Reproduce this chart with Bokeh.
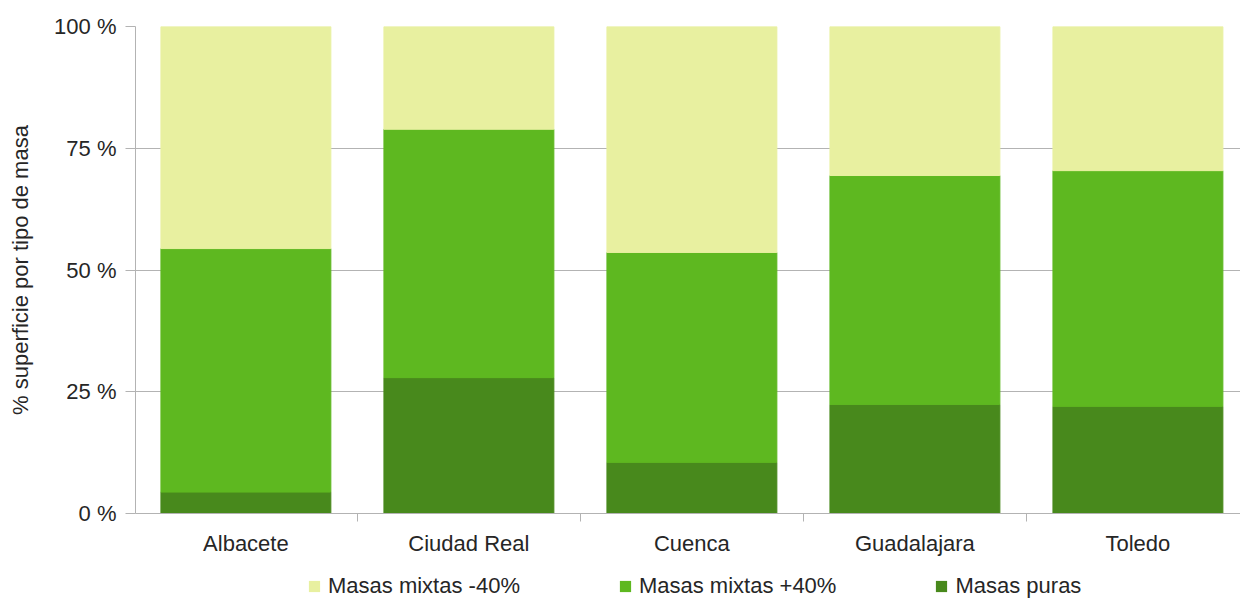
from bokeh.plotting import figure
from bokeh.layouts import column
from bokeh.models import ColumnDataSource, Range1d, FixedTicker, Legend, LegendItem
from bokeh.embed import file_html
from bokeh.resources import INLINE

# Share of forest area by stand type, per province (%)
provincias = ["Albacete", "Ciudad Real", "Cuenca", "Guadalajara", "Toledo"]
masas_puras = [4.4, 27.9, 10.5, 22.4, 22.0]
mixtas_mas40 = [50.0, 51.0, 43.1, 47.0, 48.4]
mixtas_menos40 = [45.6, 21.1, 46.4, 30.6, 29.6]

series = ["Masas puras", "Masas mixtas +40%", "Masas mixtas -40%"]
colores = ["#48891c", "#5eb820", "#e8f0a0"]

y_ticks = [0, 25, 50, 75, 100]
y_tick_labels = ["0 %", "25 %", "50 %", "75 %", "100 %"]
y_title = "% superficie por tipo de masa"

FONT = "Liberation Sans"
TEXT = "#262626"
GRAY = "#b3b3b3"

centros = [i + 0.5 for i in range(len(provincias))]
limites = list(range(len(provincias) + 1))

source = ColumnDataSource(dict(
    x=centros,
    puras=masas_puras,
    mas40=mixtas_mas40,
    menos40=mixtas_menos40,
))

p = figure(
    width=1240, height=562,
    x_range=Range1d(0.005, 4.96), y_range=Range1d(0, 100),
    output_backend="svg", toolbar_location=None,
    min_border_left=135, min_border_right=0,
    min_border_top=26, min_border_bottom=49,
)
p.outline_line_color = None
p.background_fill_color = "white"

p.vbar_stack(
    ["puras", "mas40", "menos40"], x="x", width=0.762,
    color=colores, source=source,
)

# x axis: names at the bar centres, tick marks at category boundaries
xa = p.xaxis[0]
xa.ticker = FixedTicker(ticks=centros, minor_ticks=limites)
xa.major_label_overrides = {c: n for c, n in zip(centros, provincias)}
xa.major_tick_out = 0
xa.major_tick_in = 0
xa.minor_tick_out = 8
xa.minor_tick_in = 0
xa.minor_tick_line_color = GRAY
xa.axis_line_color = GRAY
xa.major_label_standoff = 9
xa.major_label_text_font = FONT
xa.major_label_text_font_size = "22px"
xa.major_label_text_color = TEXT

ya = p.yaxis[0]
ya.ticker = FixedTicker(ticks=y_ticks)
ya.major_label_overrides = {t: l for t, l in zip(y_ticks, y_tick_labels)}
ya.major_tick_out = 10
ya.major_tick_in = 0
ya.minor_tick_out = 0
ya.minor_tick_in = 0
ya.major_tick_line_color = GRAY
ya.axis_line_color = GRAY
ya.major_label_standoff = 9
ya.major_label_text_font = FONT
ya.major_label_text_font_size = "22px"
ya.major_label_text_color = TEXT
ya.axis_label = y_title
ya.axis_label_text_font = FONT
ya.axis_label_text_font_size = "22px"
ya.axis_label_text_font_style = "normal"
ya.axis_label_text_color = TEXT
ya.axis_label_standoff = 18

p.xgrid.grid_line_color = None
p.ygrid.ticker = FixedTicker(ticks=y_ticks)
p.ygrid.grid_line_color = GRAY
p.ygrid.grid_line_width = 1

# legend strip underneath the chart (its frame lines up with the chart's)
leg = figure(
    width=1240, height=37,
    x_range=Range1d(0, 1), y_range=Range1d(0, 1),
    output_backend="svg", toolbar_location=None,
    x_axis_location=None, y_axis_location=None,
    min_border_left=135, min_border_right=0,
    min_border_top=0, min_border_bottom=0,
)
leg.outline_line_color = None
leg.xgrid.visible = False
leg.ygrid.visible = False

# flat, zero-height keys: they only supply the legend swatches
swatches = [
    leg.vbar(x=[0.5], top=[0], width=0.1, fill_color=c, line_color=c, line_alpha=0)
    for c in colores
]
items = [LegendItem(label=s, renderers=[r]) for s, r in zip(series, swatches)]
legend = Legend(
    items=items[::-1], orientation="horizontal",
    location=(172, 0),
    glyph_width=14, glyph_height=14, label_standoff=7, spacing=98,
    padding=0, margin=0,
    border_line_color=None, background_fill_alpha=0,
    label_text_font=FONT, label_text_font_size="22px", label_text_color=TEXT,
)
leg.add_layout(legend, "center")

layout = column(p, leg, spacing=0)
open("out.html", "w").write(file_html(layout, INLINE))
